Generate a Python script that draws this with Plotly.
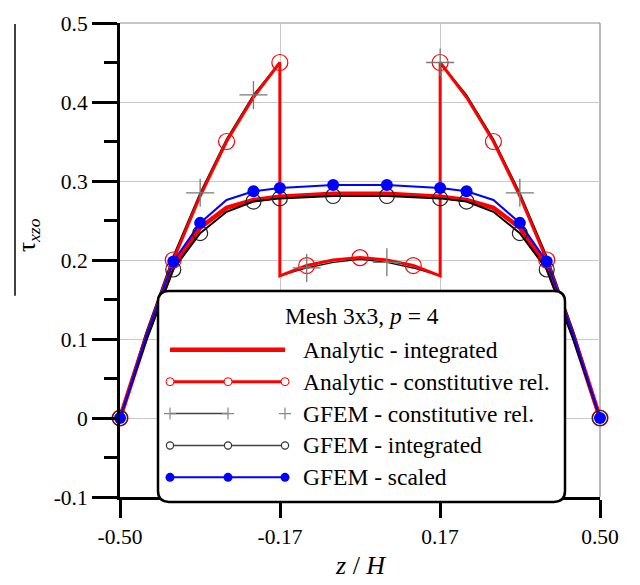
import plotly.graph_objects as go

# ---- data -------------------------------------------------------------
# analytic shear stress obtained by integrating the equilibrium equations
z_an = [-0.5, -0.444, -0.389, -0.333, -0.278, -0.222, -0.167, -0.111, -0.056, 0.0,
        0.056, 0.111, 0.167, 0.222, 0.278, 0.333, 0.389, 0.444, 0.5]
tau_an_int = [0.0, 0.105, 0.192, 0.241, 0.266, 0.276, 0.280, 0.282, 0.284, 0.284,
              0.284, 0.282, 0.280, 0.276, 0.266, 0.241, 0.192, 0.105, 0.0]

# constitutive-relation stresses (interfaces at z/H = -1/6 and 1/6 appear twice)
z_cr = [-0.5, -0.444, -0.389, -0.333, -0.278, -0.222, -0.167, -0.167, -0.111, -0.056, 0.0,
        0.056, 0.111, 0.167, 0.167, 0.222, 0.278, 0.333, 0.389, 0.444, 0.5]
tau_an_cr = [0.0, 0.106, 0.200, 0.281, 0.350, 0.406, 0.450, 0.180, 0.193, 0.200, 0.203,
             0.200, 0.193, 0.180, 0.450, 0.406, 0.350, 0.281, 0.200, 0.106, 0.0]
tau_gfem_cr = [0.0, 0.111, 0.205, 0.285, 0.353, 0.409, 0.450, 0.180, 0.190, 0.197, 0.201,
               0.197, 0.190, 0.180, 0.450, 0.409, 0.353, 0.285, 0.205, 0.111, 0.0]
gfem_cr_symbol_idx = [3, 5, 8, 11, 14, 17]

# GFEM post-processed stresses
z_g = [-0.5, -0.444, -0.389, -0.333, -0.278, -0.222, -0.167, -0.056,
       0.056, 0.167, 0.222, 0.278, 0.333, 0.389, 0.444, 0.5]
tau_gfem_int = [0.0, 0.100, 0.188, 0.234, 0.261, 0.274, 0.278, 0.281,
                0.281, 0.278, 0.274, 0.261, 0.234, 0.188, 0.100, 0.0]
tau_gfem_scaled = [0.0, 0.106, 0.198, 0.247, 0.276, 0.287, 0.291, 0.295,
                   0.295, 0.291, 0.287, 0.276, 0.247, 0.198, 0.106, 0.0]
gfem_symbol_idx = [0, 2, 3, 5, 6, 7, 8, 9, 10, 12, 13, 15]

x_tickvals = [-0.5, -1 / 6, 1 / 6, 0.5]
x_ticktext = ["-0.50", "-0.17", "0.17", "0.50"]
y_tickvals = [-0.1, 0.0, 0.1, 0.2, 0.3, 0.4, 0.5]
y_ticktext = ["-0.1", "0", "0.1", "0.2", "0.3", "0.4", "0.5"]
y_minor_tickvals = [-0.05, 0.05, 0.15, 0.25, 0.35, 0.45]

legend_title = "Mesh 3x3, <i>p</i> = 4"
legend_labels = ["Analytic - integrated", "Analytic - constitutive rel.",
                 "GFEM - constitutive rel.", "GFEM - integrated", "GFEM - scaled"]

# ---- page geometry ----------------------------------------------------
W, H = 640, 585
L, R, T, B = 120, 600, 14, 497          # plot area in page pixels
FONT = "Liberation Serif"
RED, BLUE = "#ff0000", "#0000ff"
TICK = "#000000"


def px(x):
    return (x - L) / (R - L)


def py(y):
    return (B - y) / (B - T)


def pick(seq, idx):
    return [seq[i] for i in idx]


fig = go.Figure()

# lines
fig.add_trace(go.Scatter(x=z_an, y=tau_an_int, mode="lines",
                         line=dict(color=RED, width=4.5)))
fig.add_trace(go.Scatter(x=z_cr, y=tau_gfem_cr, mode="lines",
                         line=dict(color="#111111", width=1.5)))
fig.add_trace(go.Scatter(x=z_cr, y=tau_an_cr, mode="lines",
                         line=dict(color=RED, width=3)))
fig.add_trace(go.Scatter(x=z_g, y=tau_gfem_int, mode="lines",
                         line=dict(color="#000000", width=2)))
fig.add_trace(go.Scatter(x=z_g, y=tau_gfem_scaled, mode="lines",
                         line=dict(color=BLUE, width=2)))

# symbols
fig.add_trace(go.Scatter(x=z_cr[::2], y=tau_an_cr[::2], mode="markers", cliponaxis=False,
                         marker=dict(symbol="circle-open", size=16, color=RED,
                                     line=dict(color=RED, width=1.2))))
fig.add_trace(go.Scatter(x=pick(z_cr, gfem_cr_symbol_idx),
                         y=pick(tau_gfem_cr, gfem_cr_symbol_idx),
                         mode="markers", cliponaxis=False,
                         marker=dict(symbol="cross-thin-open", size=20, color="#777777",
                                     line=dict(color="#777777", width=1.3))))
fig.add_trace(go.Scatter(x=pick(z_g, gfem_symbol_idx), y=pick(tau_gfem_int, gfem_symbol_idx),
                         mode="markers", cliponaxis=False,
                         marker=dict(symbol="circle-open", size=15, color="#222222",
                                     line=dict(color="#222222", width=1.2))))
fig.add_trace(go.Scatter(x=pick(z_g, gfem_symbol_idx), y=pick(tau_gfem_scaled, gfem_symbol_idx),
                         mode="markers", cliponaxis=False,
                         marker=dict(symbol="circle", size=12, color=BLUE,
                                     line=dict(width=0))))

shapes = []
# thin frame on top and right
shapes.append(dict(type="line", xref="paper", yref="paper", x0=0, x1=1, y0=1, y1=1,
                   line=dict(color="#8c8c8c", width=1.2), layer="below"))
shapes.append(dict(type="line", xref="paper", yref="paper", x0=1, x1=1, y0=0, y1=1,
                   line=dict(color="#8c8c8c", width=1.2), layer="below"))
# stroke running up from the y-axis symbol
shapes.append(dict(type="line", xref="paper", yref="paper", x0=px(15), x1=px(15),
                   y0=py(15), y1=py(292), line=dict(color="#000000", width=1.5)))

# legend box with rounded corners
bx0, bx1, by0, by1, rad = 158, 565, 287, 502, 11
rx, ry = rad / (R - L), rad / (B - T)
X0, X1, Y0, Y1 = px(bx0), px(bx1), py(by1), py(by0)
box = (f"M {X0 + rx} {Y1} L {X1 - rx} {Y1} Q {X1} {Y1} {X1} {Y1 - ry} "
       f"L {X1} {Y0 + ry} Q {X1} {Y0} {X1 - rx} {Y0} "
       f"L {X0 + rx} {Y0} Q {X0} {Y0} {X0} {Y0 + ry} "
       f"L {X0} {Y1 - ry} Q {X0} {Y1} {X0 + rx} {Y1} Z")
shapes.append(dict(type="path", xref="paper", yref="paper", path=box,
                   fillcolor="white", line=dict(color="#000000", width=2.5)))

rows = [347, 379.5, 412, 444.5, 477]
sx = [170, 228, 285]


def seg(xa, xb, y, color, width):
    return dict(type="line", xref="paper", yref="paper", x0=px(xa), x1=px(xb),
                y0=py(y), y1=py(y), line=dict(color=color, width=width))


def dot(x, y, r, color, fill=None, width=1):
    return dict(type="circle", xref="paper", yref="paper", xsizemode="pixel",
                ysizemode="pixel", xanchor=px(x), yanchor=py(y), x0=-r, x1=r, y0=-r, y1=r,
                fillcolor=fill if fill else "rgba(0,0,0,0)",
                line=dict(color=color, width=width))


def plus(x, y, r, color):
    return dict(type="path", xref="paper", yref="paper", xsizemode="pixel",
                ysizemode="pixel", xanchor=px(x), yanchor=py(y),
                path=f"M {-r} 0 L {r} 0 M 0 {-r} L 0 {r}",
                line=dict(color=color, width=1.2))


shapes.append(seg(sx[0], sx[2], rows[0], RED, 4.5))
shapes.append(seg(sx[0], sx[2], rows[1], RED, 3))
for x in sx:
    shapes.append(dot(x, rows[1], 4, RED, "white", 1))
shapes.append(seg(sx[0], sx[1], rows[2], "#444444", 1.5))
for x in sx:
    shapes.append(plus(x, rows[2], 6, "#888888"))
shapes.append(seg(sx[0], sx[2], rows[3], "#444444", 1.5))
for x in sx:
    shapes.append(dot(x, rows[3], 3.6, "#333333", "white", 1.2))
shapes.append(seg(sx[0], sx[2], rows[4], BLUE, 2))
for x in sx:
    shapes.append(dot(x, rows[4], 4.5, BLUE, BLUE, 0))

annotations = [
    dict(text=legend_title, xref="paper", yref="paper", x=px(362), y=py(313),
         xanchor="center", yanchor="middle", showarrow=False,
         font=dict(family=FONT, size=23.5, color="black")),
    dict(text="<i>z</i> / <i>H</i>", xref="paper", yref="paper", x=px(360), y=py(567),
         xanchor="center", yanchor="middle", showarrow=False,
         font=dict(family=FONT, size=26, color="black")),
    dict(text="τ<sub><i>xzo</i></sub>", xref="paper", yref="paper", x=px(29), y=py(230),
         xanchor="center", yanchor="middle", textangle=-90, showarrow=False,
         font=dict(family=FONT, size=25, color="black")),
]
for lab, y in zip(legend_labels, rows):
    annotations.append(dict(text=lab, xref="paper", yref="paper", x=px(301), y=py(y),
                            xanchor="left", yanchor="middle", showarrow=False,
                            font=dict(family=FONT, size=23.5, color="black")))

fig.update_layout(
    width=W, height=H,
    margin=dict(l=L, r=W - R, t=T, b=H - B, pad=0),
    paper_bgcolor="white", plot_bgcolor="white",
    showlegend=False,
    shapes=shapes,
    annotations=annotations,
    font=dict(family=FONT, size=21, color="black"),
)
fig.update_xaxes(
    range=[-0.5, 0.5], tickvals=x_tickvals, ticktext=x_ticktext,
    showgrid=True, gridcolor="#c8c8c8", gridwidth=1, zeroline=False,
    showline=True, linecolor="black", linewidth=3,
    ticks="outside", ticklen=18, tickwidth=3, tickcolor=TICK,
    tickfont=dict(family=FONT, size=21.5, color="black"),
)
fig.update_yaxes(
    range=[-0.1, 0.5], tickvals=y_tickvals, ticktext=y_ticktext,
    showgrid=True, gridcolor="#c8c8c8", gridwidth=1, zeroline=False,
    showline=True, linecolor="black", linewidth=3,
    ticks="outside", ticklen=25, tickwidth=3, tickcolor=TICK,
    minor=dict(tickvals=y_minor_tickvals, ticks="outside",
               ticklen=13, tickwidth=3, tickcolor=TICK, showgrid=False),
    tickfont=dict(family=FONT, size=21.5, color="black"),
)

fig.write_html("out.html")
